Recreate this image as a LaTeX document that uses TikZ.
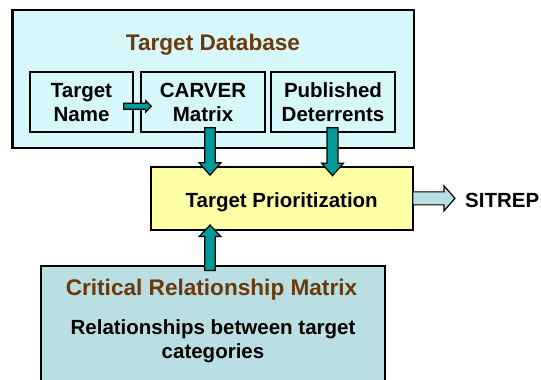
\documentclass[tikz,border=0pt]{standalone}
\usepackage{fontspec}
\setmainfont{Liberation Sans}
\usetikzlibrary{calc}

\definecolor{dbfill}{HTML}{D6F8FB}
\definecolor{crmfill}{HTML}{B9DFE3}
\definecolor{priofill}{HTML}{FFFFA6}
\definecolor{tealc}{HTML}{009A9A}
\definecolor{headbrown}{HTML}{6B3A0C}

\tikzset{
  panel/.style={draw=black, line width=2.3pt, inner sep=0pt},
  cell/.style={draw=black, line width=2pt, fill=dbfill, inner sep=0pt,
               minimum width=124pt, minimum height=60pt},
  txt/.style={inner sep=0pt, anchor=base, font=\bfseries\fontsize{20.5}{24}\selectfont},
  heading/.style={txt, text=headbrown, font=\bfseries\fontsize{22.6}{26}\selectfont},
  blockarrow/.style={draw=black, line width=1.2pt, fill=tealc, line join=miter},
}

% block arrow: start, tip, shaft half width, head half width, head length
\newcommand\blockarrowfrom[6][]{%
  \coordinate (hb) at ($(#3)!#6!(#2)$);
  \draw[blockarrow,#1] ($(#2)!#4!90:(#3)$) -- ($(hb)!#4!90:(#3)$)
    -- ($(hb)!#5!90:(#3)$) -- (#3) -- ($(hb)!#5!-90:(#3)$)
    -- ($(hb)!#4!-90:(#3)$) -- ($(#2)!#4!-90:(#3)$) -- cycle;}

\begin{document}
\begin{tikzpicture}[x=1pt, y=-1pt]
\useasboundingbox (0,0) rectangle (541,380);
\clip (0,0) rectangle (541,380);

% target database panel
\node[panel, fill=dbfill, minimum width=401.5pt, minimum height=138pt] (db) at (213.25,79) {};
\node[heading] (dbtitle) at (213,50) {Target Database};

\node[cell, minimum width=103pt] (tname) at (81.5,101.7) {};
\node[cell] (carver) at (203,101.7) {};
\node[cell] (pub) at (333,101.7) {};

\node[txt] (tname1) at (81.5,97.7) {Target};
\node[txt] (tname2) at (81.5,121.7) {Name};
\node[txt] (carver1) at (203,97.5) {CARVER};
\node[txt] (carver2) at (203,121.7) {Matrix};
\node[txt] (pub1) at (333,97.5) {Published};
\node[txt] (pub2) at (333,121.7) {Deterrents};

% prioritization box and the relationship matrix panel
\node[panel, line width=2.1pt, fill=priofill, minimum width=262pt, minimum height=63.3pt] (prio) at (281.7,198.35) {};
\node[txt] (priotext) at (281.7,207.4) {Target Prioritization};

\node[panel, fill=crmfill, minimum width=344.3pt, minimum height=126.3pt] (crm) at (212.85,328.85) {};
\node[heading] (crmtitle) at (211.5,295.7) {Critical Relationship Matrix};
\node[txt] (crm1) at (213,334) {Relationships between target};
\node[txt] (crm2) at (213,358) {categories};

\node[txt, anchor=base west] (sitrep) at (465,207.5) {SITREP};

% arrow columns and end points
\coordinate (colA) at (210,0);
\coordinate (colB) at (332.5,0);
\coordinate (n1s) at ($(tname.east)+(-10.3,4.6)$);
\coordinate (n1t) at ($(carver.west)+(11.3,4.6)$);
\coordinate (d1s) at ($(carver.south -| colA)+(0,-5)$);
\coordinate (d1t) at ($(prio.north -| colA)+(0,9.5)$);
\coordinate (d2s) at ($(pub.south -| colB)+(0,-5)$);
\coordinate (d2t) at ($(prio.north -| colB)+(0,10)$);
\coordinate (u1s) at ($(crm.north -| colA)+(0,6)$);
\coordinate (u1t) at ($(prio.south -| colA)+(0,-6)$);
\coordinate (s1s) at ($(prio.east)+(-1,0)$);
\coordinate (s1t) at ($(sitrep.west |- prio.east)+(-10,0)$);

\blockarrowfrom{n1s}{n1t}{3pt}{5.6pt}{5.5pt}
\blockarrowfrom{d1s}{d1t}{5.2pt}{11pt}{12.5pt}
\blockarrowfrom{d2s}{d2t}{5.5pt}{11pt}{12.5pt}
\blockarrowfrom{u1s}{u1t}{5.3pt}{10.8pt}{11.5pt}
\blockarrowfrom[fill=crmfill]{s1s}{s1t}{6.5pt}{12.5pt}{11pt}
\end{tikzpicture}
\end{document}
